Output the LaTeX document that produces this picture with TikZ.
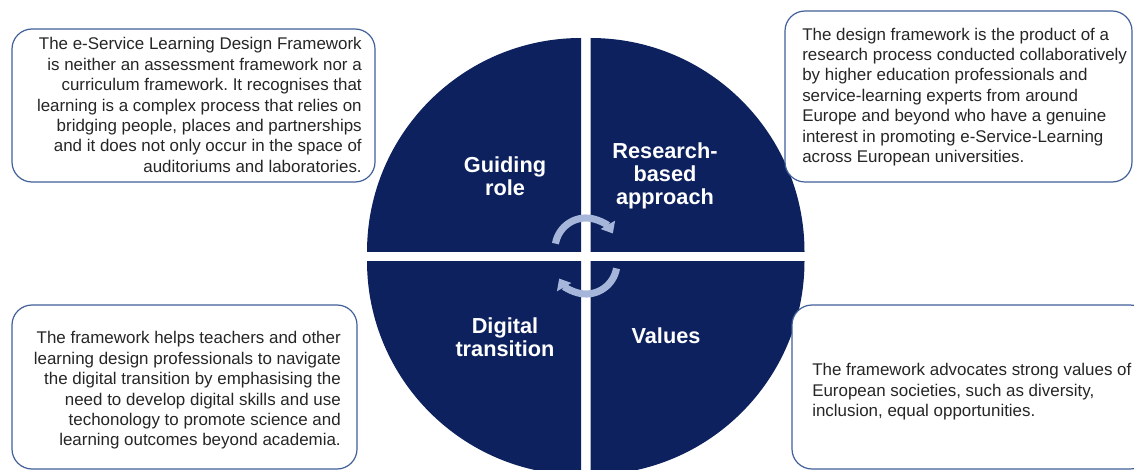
\documentclass[tikz,border=0pt]{standalone}
\usepackage{fontspec}
\setmainfont{Liberation Sans}
\usetikzlibrary{arrows.meta}
\frenchspacing

\definecolor{quadblue}{RGB}{13,33,94}
\definecolor{boxline}{RGB}{65,96,154}
\definecolor{turnblue}{RGB}{166,182,218}
\definecolor{bodytext}{RGB}{38,38,38}

\tikzset{
  quad/.style={fill=quadblue},
  quadlabel/.style={text=white, font=\fontsize{16.3}{17.2}\selectfont\bfseries, align=center, inner sep=0pt},
  infobox/.style={draw=boxline, line width=0.9pt, fill=white, rounded corners=15pt},
  infotext/.style={text=bodytext, font=\fontsize{12.7}{15.3}\selectfont, inner sep=0pt},
  turnarrow/.style={draw=turnblue, line width=5.3pt, -{Triangle[width=12pt,length=7.5pt]}}
}

\begin{document}
\begin{tikzpicture}[x=0.75pt, y=-0.75pt]
\clip (0,0) rectangle (1134,470);

% four quarters of the disc
\fill[quad] (581,252) -- ++(-214,0) arc[start angle=180, end angle=270, radius=214] -- cycle;
\fill[quad] (590.5,252) -- ++(0,-214) arc[start angle=270, end angle=360, radius=214] -- cycle;
\fill[quad] (581,261) -- ++(0,214) arc[start angle=90, end angle=180, radius=214] -- cycle;
\fill[quad] (590.5,261) -- ++(214,0) arc[start angle=0, end angle=90, radius=214] -- cycle;

\node[quadlabel] (guiding) at (505,176) {Guiding\\role};
\node[quadlabel] (research) at (665,176) {Research-\\based\\approach};
\node[quadlabel] (digital) at (505,337) {Digital\\transition};
\node[quadlabel] (values) at (666,336) {Values};

% turning arrows in the middle
\draw[turnarrow] (586,249) ++(190:31) arc[start angle=190, end angle=330, radius=31];
\draw[turnarrow] (586,263) ++(10:31) arc[start angle=10, end angle=150, radius=31];

% side boxes
\draw[infobox] (12,29) rectangle (375,182);
\draw[infobox] (785,11) rectangle (1132,182);
\draw[infobox] (12,305) rectangle (357,469);
\draw[infobox] (792,305) rectangle (1150,469);

\node[infotext, align=right, anchor=east] (guidingtxt) at (362,105) {The e-Service Learning Design Framework\\
is neither an assessment framework nor a\\
curriculum framework. It recognises that\\
learning is a complex process that relies on\\
bridging people, places and partnerships\\
and it does not only occur in the space of\\
auditoriums and laboratories.};

\node[infotext, align=left, anchor=west] (researchtxt) at (802,97) {The design framework is the product of a\\
research process conducted collaboratively\\
by higher education professionals and\\
service-learning experts from around\\
Europe and beyond who have a genuine\\
interest in promoting e-Service-Learning\\
across European universities.};

\node[infotext, align=right, anchor=east] (digitaltxt) at (341,390.5) {The framework helps teachers and other\\
learning design professionals to navigate\\
the digital transition by emphasising the\\
need to develop digital skills and use\\
techonology to promote science and\\
learning outcomes beyond academia.};

\node[infotext, align=left, anchor=west] (valuestxt) at (812,392) {The framework advocates strong values of\\
European societies, such as diversity,\\
inclusion, equal opportunities.};
\end{tikzpicture}
\end{document}
